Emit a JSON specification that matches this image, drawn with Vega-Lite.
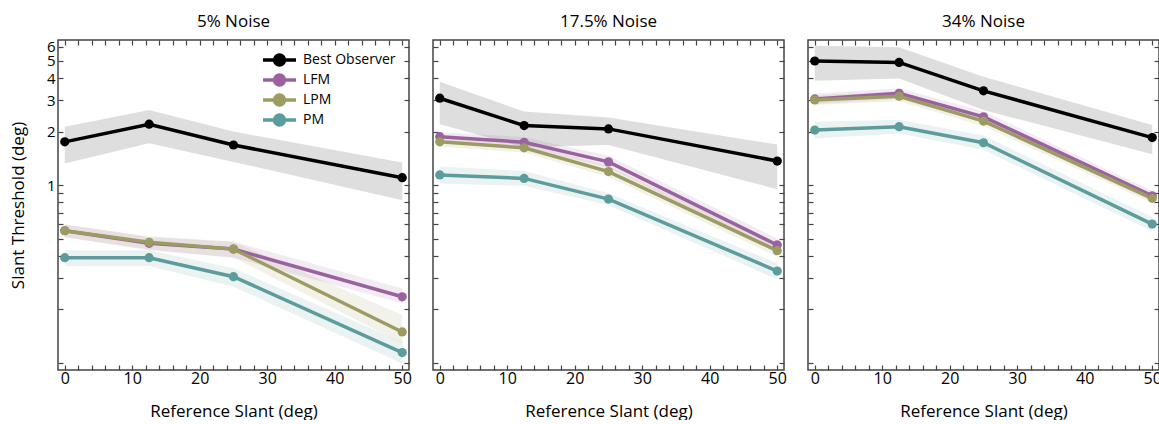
{
  "$schema": "https://vega.github.io/schema/vega-lite/v6.json",
  "padding": {"left": 8, "top": 12, "right": 0, "bottom": 0},
  "bounds": "flush",
  "datasets": {
    "d": [
      {"noise": "5% Noise", "model": "Best Observer", "slant": 0, "thr": 1.75, "lo": 1.32, "hi": 2.13},
      {"noise": "5% Noise", "model": "Best Observer", "slant": 12.5, "thr": 2.2, "lo": 1.72, "hi": 2.64},
      {"noise": "5% Noise", "model": "Best Observer", "slant": 25, "thr": 1.68, "lo": 1.35, "hi": 2.0},
      {"noise": "5% Noise", "model": "Best Observer", "slant": 50, "thr": 1.1, "lo": 0.82, "hi": 1.34},
      {"noise": "5% Noise", "model": "LFM", "slant": 0, "thr": 0.553, "lo": 0.508, "hi": 0.6},
      {"noise": "5% Noise", "model": "LFM", "slant": 12.5, "thr": 0.47, "lo": 0.43, "hi": 0.51},
      {"noise": "5% Noise", "model": "LFM", "slant": 25, "thr": 0.436, "lo": 0.39, "hi": 0.48},
      {"noise": "5% Noise", "model": "LFM", "slant": 50, "thr": 0.235, "lo": 0.216, "hi": 0.262},
      {"noise": "5% Noise", "model": "LPM", "slant": 0, "thr": 0.553, "lo": 0.508, "hi": 0.6},
      {"noise": "5% Noise", "model": "LPM", "slant": 12.5, "thr": 0.476, "lo": 0.435, "hi": 0.515},
      {"noise": "5% Noise", "model": "LPM", "slant": 25, "thr": 0.436, "lo": 0.39, "hi": 0.48},
      {"noise": "5% Noise", "model": "LPM", "slant": 50, "thr": 0.149, "lo": 0.1285, "hi": 0.1855},
      {"noise": "5% Noise", "model": "PM", "slant": 0, "thr": 0.39, "lo": 0.35, "hi": 0.43},
      {"noise": "5% Noise", "model": "PM", "slant": 12.5, "thr": 0.39, "lo": 0.35, "hi": 0.43},
      {"noise": "5% Noise", "model": "PM", "slant": 25, "thr": 0.305, "lo": 0.268, "hi": 0.34},
      {"noise": "5% Noise", "model": "PM", "slant": 50, "thr": 0.114, "lo": 0.099, "hi": 0.131},
      {"noise": "17.5% Noise", "model": "Best Observer", "slant": 0, "thr": 3.08, "lo": 2.2, "hi": 3.81},
      {"noise": "17.5% Noise", "model": "Best Observer", "slant": 12.5, "thr": 2.16, "lo": 1.63, "hi": 2.59},
      {"noise": "17.5% Noise", "model": "Best Observer", "slant": 25, "thr": 2.07, "lo": 1.68, "hi": 2.4},
      {"noise": "17.5% Noise", "model": "Best Observer", "slant": 50, "thr": 1.365, "lo": 0.946, "hi": 1.69},
      {"noise": "17.5% Noise", "model": "LFM", "slant": 0, "thr": 1.87, "lo": 1.75, "hi": 1.99},
      {"noise": "17.5% Noise", "model": "LFM", "slant": 12.5, "thr": 1.74, "lo": 1.63, "hi": 1.86},
      {"noise": "17.5% Noise", "model": "LFM", "slant": 25, "thr": 1.35, "lo": 1.25, "hi": 1.46},
      {"noise": "17.5% Noise", "model": "LFM", "slant": 50, "thr": 0.46, "lo": 0.42, "hi": 0.5},
      {"noise": "17.5% Noise", "model": "LPM", "slant": 0, "thr": 1.75, "lo": 1.65, "hi": 1.86},
      {"noise": "17.5% Noise", "model": "LPM", "slant": 12.5, "thr": 1.62, "lo": 1.52, "hi": 1.72},
      {"noise": "17.5% Noise", "model": "LPM", "slant": 25, "thr": 1.19, "lo": 1.11, "hi": 1.28},
      {"noise": "17.5% Noise", "model": "LPM", "slant": 50, "thr": 0.427, "lo": 0.395, "hi": 0.46},
      {"noise": "17.5% Noise", "model": "PM", "slant": 0, "thr": 1.14, "lo": 1.02, "hi": 1.27},
      {"noise": "17.5% Noise", "model": "PM", "slant": 12.5, "thr": 1.09, "lo": 0.99, "hi": 1.2},
      {"noise": "17.5% Noise", "model": "PM", "slant": 25, "thr": 0.834, "lo": 0.77, "hi": 0.9},
      {"noise": "17.5% Noise", "model": "PM", "slant": 50, "thr": 0.328, "lo": 0.295, "hi": 0.363},
      {"noise": "34% Noise", "model": "Best Observer", "slant": 0, "thr": 4.99, "lo": 3.86, "hi": 6.08},
      {"noise": "34% Noise", "model": "Best Observer", "slant": 12.5, "thr": 4.9, "lo": 3.98, "hi": 5.96},
      {"noise": "34% Noise", "model": "Best Observer", "slant": 25, "thr": 3.39, "lo": 2.64, "hi": 4.07},
      {"noise": "34% Noise", "model": "Best Observer", "slant": 50, "thr": 1.85, "lo": 1.49, "hi": 2.18},
      {"noise": "34% Noise", "model": "LFM", "slant": 0, "thr": 3.05, "lo": 2.85, "hi": 3.27},
      {"noise": "34% Noise", "model": "LFM", "slant": 12.5, "thr": 3.28, "lo": 3.05, "hi": 3.5},
      {"noise": "34% Noise", "model": "LFM", "slant": 25, "thr": 2.42, "lo": 2.25, "hi": 2.6},
      {"noise": "34% Noise", "model": "LFM", "slant": 50, "thr": 0.87, "lo": 0.81, "hi": 0.93},
      {"noise": "34% Noise", "model": "LPM", "slant": 0, "thr": 3.01, "lo": 2.82, "hi": 3.2},
      {"noise": "34% Noise", "model": "LPM", "slant": 12.5, "thr": 3.16, "lo": 2.96, "hi": 3.37},
      {"noise": "34% Noise", "model": "LPM", "slant": 25, "thr": 2.29, "lo": 2.14, "hi": 2.45},
      {"noise": "34% Noise", "model": "LPM", "slant": 50, "thr": 0.842, "lo": 0.79, "hi": 0.9},
      {"noise": "34% Noise", "model": "PM", "slant": 0, "thr": 2.04, "lo": 1.83, "hi": 2.27},
      {"noise": "34% Noise", "model": "PM", "slant": 12.5, "thr": 2.13, "lo": 1.95, "hi": 2.33},
      {"noise": "34% Noise", "model": "PM", "slant": 25, "thr": 1.73, "lo": 1.58, "hi": 1.9},
      {"noise": "34% Noise", "model": "PM", "slant": 50, "thr": 0.603, "lo": 0.55, "hi": 0.66}
    ]
  },
  "data": {"name": "d"},
  "config": {
    "font": "Open Sans",
    "view": {"stroke": "#444444", "strokeWidth": 1.5},
    "axis": {
      "domain": false, "grid": false, "tickColor": "#444444", "tickSize": -5, "tickWidth": 1.2, "labelOverlap": false,
      "labelFontSize": 16, "labelColor": "#000000", "titleFontSize": 17, "titleFontWeight": "normal", "titleColor": "#000000"
    },
    "title": {"fontSize": 17, "fontWeight": "normal", "offset": 8, "color": "#000000"},
    "concat": {"spacing": 24}
  },
  "hconcat": [
    {
      "title": "5% Noise",
      "width": 351, "height": 330,
      "transform": [{"filter": "datum.noise === '5% Noise'"}],
      "layer": [
        {
          "mark": {"type": "area", "opacity": 0.13},
          "encoding": {
            "x": {"field": "slant", "type": "quantitative", "scale": {"domain": [-1, 51], "nice": false, "zero": false},
              "axis": {"orient": "bottom", "values": [0,2,4,6,8,10,12,14,16,18,20,22,24,26,28,30,32,34,36,38,40,42,44,46,48,50], "labelExpr": "datum.value % 10 === 0 ? datum.value : ''", "title": "Reference Slant (deg)", "labelPadding": 5, "titlePadding": 17}},
            "y": {"field": "lo", "type": "quantitative", "stack": null, "scale": {"type": "log", "domain": [0.091, 6.55], "nice": false},
              "axis": {"orient": "left", "values": [0.1,0.2,0.3,0.4,0.5,0.6,0.7,0.8,0.9,1,2,3,4,5,6], "labelExpr": "datum.value >= 0.99 ? format(datum.value, 'd') : ''", "title": "Slant Threshold (deg)", "labelFontSize": 15, "labelPadding": 8, "titlePadding": 19}},
            "y2": {"field": "hi"},
            "color": {"field": "model", "type": "nominal"}
          }
        },
        {
          "mark": {"type": "line", "strokeWidth": 3.5, "point": {"filled": true, "size": 85, "opacity": 1}},
          "encoding": {
            "x": {"field": "slant", "type": "quantitative", "axis": {"orient": "top", "values": [0,2,4,6,8,10,12,14,16,18,20,22,24,26,28,30,32,34,36,38,40,42,44,46,48,50], "labels": false, "title": null}},
            "y": {"field": "thr", "type": "quantitative", "axis": {"orient": "right", "values": [0.1,0.2,0.3,0.4,0.5,0.6,0.7,0.8,0.9,1,2,3,4,5,6], "labels": false, "title": null}},
            "color": {"field": "model", "type": "nominal",
              "scale": {"domain": ["Best Observer", "LFM", "LPM", "PM"], "range": ["#000000", "#9b62a0", "#9c9c62", "#5c9c9c"]},
              "legend": {"orient": "none", "legendX": 203, "legendY": 10, "title": null, "clipHeight": 20, "rowPadding": 0, "padding": 0, "labelFontSize": 14, "labelOffset": 5, "labelColor": "#000000",
                "symbolType": "M -1 0 L 1 0 M -0.3 0 A 0.3 0.3 0 1 1 0.3 0 A 0.3 0.3 0 1 1 -0.3 0 Z", "symbolSize": 1089, "symbolStrokeWidth": 3.5,
                "encode": {"symbols": {"update": {"fill": {"scale": "color", "field": "value"}, "stroke": {"scale": "color", "field": "value"}, "opacity": {"value": 1}, "fillOpacity": {"value": 1}, "strokeOpacity": {"value": 1}}}}}}
          }
        }
      ],
      "resolve": {"axis": {"x": "independent", "y": "independent"}}
    },
    {
      "title": "17.5% Noise",
      "width": 351, "height": 330,
      "transform": [{"filter": "datum.noise === '17.5% Noise'"}],
      "layer": [
        {
          "mark": {"type": "area", "opacity": 0.13},
          "encoding": {
            "x": {"field": "slant", "type": "quantitative", "scale": {"domain": [-1, 51], "nice": false, "zero": false},
              "axis": {"orient": "bottom", "values": [0,2,4,6,8,10,12,14,16,18,20,22,24,26,28,30,32,34,36,38,40,42,44,46,48,50], "labelExpr": "datum.value % 10 === 0 ? datum.value : ''", "title": "Reference Slant (deg)", "labelPadding": 5, "titlePadding": 17}},
            "y": {"field": "lo", "type": "quantitative", "stack": null, "scale": {"type": "log", "domain": [0.091, 6.55], "nice": false},
              "axis": {"orient": "left", "values": [0.1,0.2,0.3,0.4,0.5,0.6,0.7,0.8,0.9,1,2,3,4,5,6], "labels": false, "title": null}},
            "y2": {"field": "hi"},
            "color": {"field": "model", "type": "nominal"}
          }
        },
        {
          "mark": {"type": "line", "strokeWidth": 3.5, "point": {"filled": true, "size": 85, "opacity": 1}},
          "encoding": {
            "x": {"field": "slant", "type": "quantitative", "axis": {"orient": "top", "values": [0,2,4,6,8,10,12,14,16,18,20,22,24,26,28,30,32,34,36,38,40,42,44,46,48,50], "labels": false, "title": null}},
            "y": {"field": "thr", "type": "quantitative", "axis": {"orient": "right", "values": [0.1,0.2,0.3,0.4,0.5,0.6,0.7,0.8,0.9,1,2,3,4,5,6], "labels": false, "title": null}},
            "color": {"field": "model", "type": "nominal"}
          }
        }
      ],
      "resolve": {"axis": {"x": "independent", "y": "independent"}}
    },
    {
      "title": "34% Noise",
      "width": 351, "height": 330,
      "transform": [{"filter": "datum.noise === '34% Noise'"}],
      "layer": [
        {
          "mark": {"type": "area", "opacity": 0.13},
          "encoding": {
            "x": {"field": "slant", "type": "quantitative", "scale": {"domain": [-1, 51], "nice": false, "zero": false},
              "axis": {"orient": "bottom", "values": [0,2,4,6,8,10,12,14,16,18,20,22,24,26,28,30,32,34,36,38,40,42,44,46,48,50], "labelExpr": "datum.value % 10 === 0 ? datum.value : ''", "title": "Reference Slant (deg)", "labelPadding": 5, "titlePadding": 17}},
            "y": {"field": "lo", "type": "quantitative", "stack": null, "scale": {"type": "log", "domain": [0.091, 6.55], "nice": false},
              "axis": {"orient": "left", "values": [0.1,0.2,0.3,0.4,0.5,0.6,0.7,0.8,0.9,1,2,3,4,5,6], "labels": false, "title": null}},
            "y2": {"field": "hi"},
            "color": {"field": "model", "type": "nominal"}
          }
        },
        {
          "mark": {"type": "line", "strokeWidth": 3.5, "point": {"filled": true, "size": 85, "opacity": 1}},
          "encoding": {
            "x": {"field": "slant", "type": "quantitative", "axis": {"orient": "top", "values": [0,2,4,6,8,10,12,14,16,18,20,22,24,26,28,30,32,34,36,38,40,42,44,46,48,50], "labels": false, "title": null}},
            "y": {"field": "thr", "type": "quantitative", "axis": {"orient": "right", "values": [0.1,0.2,0.3,0.4,0.5,0.6,0.7,0.8,0.9,1,2,3,4,5,6], "labels": false, "title": null}},
            "color": {"field": "model", "type": "nominal"}
          }
        }
      ],
      "resolve": {"axis": {"x": "independent", "y": "independent"}}
    }
  ]
}
